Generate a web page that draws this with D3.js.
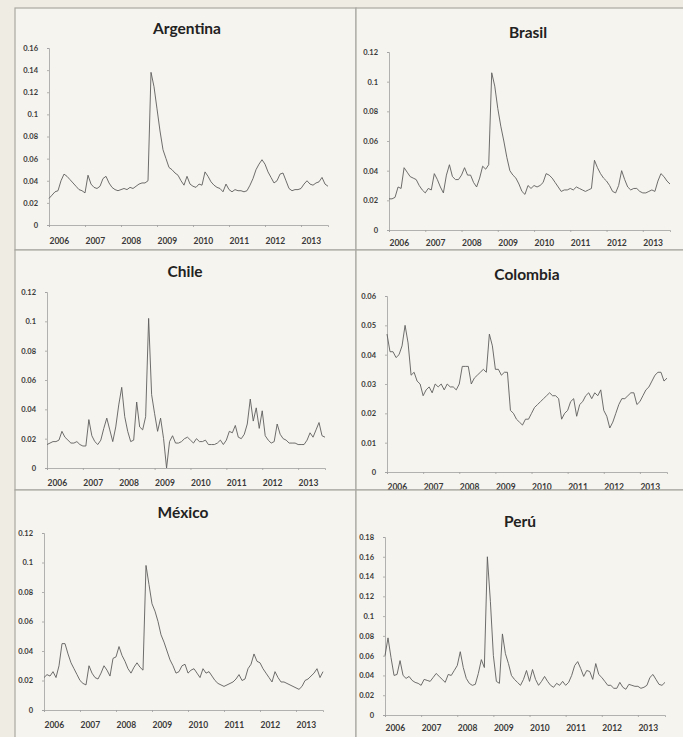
<!DOCTYPE html>
<html>
<head>
<meta charset="utf-8">
<script src="https://cdn.jsdelivr.net/npm/d3@7"></script>
<style>
	body { margin: 0; background: #efece4; }
	svg { display: block; }
	.tick text { font-family: Lato, "Open Sans", sans-serif; font-weight: 700; fill: #3a3a3a; }
	.title { font-family: Lato, "Open Sans", sans-serif; font-weight: 700; font-size: 15.5px; fill: #222; text-anchor: middle; }
</style>
</head>
<body>
<svg id="chart" width="683" height="737"></svg>
<script>
// monthly observations, Jan 2006 .. Oct 2013
const years = [2006, 2007, 2008, 2009, 2010, 2011, 2012, 2013];
const countries = ['Argentina', 'Brasil', 'Chile', 'Colombia', 'México', 'Perú'];

const argentina = [
	0.024, 0.027, 0.030, 0.031, 0.040, 0.046, 0.044, 0.041, 0.038, 0.035, 0.032, 0.031,
	0.029, 0.045, 0.037, 0.034, 0.033, 0.035, 0.042, 0.044, 0.038, 0.034, 0.032, 0.031,
	0.032, 0.033, 0.032, 0.034, 0.033, 0.035, 0.037, 0.038, 0.038, 0.040, 0.138, 0.125,
	0.105, 0.085, 0.068, 0.060, 0.052, 0.050, 0.047, 0.045, 0.040, 0.036, 0.044, 0.037,
	0.035, 0.034, 0.037, 0.036, 0.048, 0.044, 0.039, 0.036, 0.034, 0.033, 0.030, 0.037,
	0.032, 0.030, 0.032, 0.031, 0.031, 0.030, 0.031, 0.036, 0.042, 0.050, 0.055, 0.059,
	0.055, 0.048, 0.043, 0.038, 0.040, 0.046, 0.047, 0.040, 0.033, 0.031, 0.032, 0.032,
	0.033, 0.037, 0.040, 0.037, 0.036, 0.038, 0.039, 0.043, 0.037, 0.035
];
const brasil = [
	0.021, 0.021, 0.022, 0.029, 0.028, 0.042, 0.039, 0.036, 0.035, 0.034, 0.030, 0.027,
	0.025, 0.028, 0.027, 0.038, 0.034, 0.029, 0.025, 0.037, 0.044, 0.036, 0.034, 0.034,
	0.037, 0.042, 0.037, 0.037, 0.032, 0.029, 0.035, 0.043, 0.041, 0.044, 0.106, 0.097,
	0.082, 0.070, 0.060, 0.049, 0.040, 0.037, 0.035, 0.031, 0.026, 0.024, 0.030, 0.028,
	0.030, 0.029, 0.030, 0.032, 0.038, 0.037, 0.035, 0.032, 0.029, 0.026, 0.027, 0.027,
	0.028, 0.027, 0.029, 0.028, 0.027, 0.026, 0.027, 0.028, 0.047, 0.042, 0.038, 0.035,
	0.033, 0.030, 0.026, 0.025, 0.030, 0.040, 0.034, 0.029, 0.027, 0.028, 0.028, 0.026,
	0.025, 0.025, 0.026, 0.027, 0.026, 0.033, 0.038, 0.036, 0.033, 0.031
];
const chile = [
	0.016, 0.017, 0.018, 0.018, 0.019, 0.025, 0.021, 0.019, 0.017, 0.017, 0.018, 0.016,
	0.015, 0.015, 0.033, 0.022, 0.018, 0.016, 0.019, 0.027, 0.034, 0.026, 0.018, 0.028,
	0.043, 0.055, 0.035, 0.025, 0.018, 0.019, 0.045, 0.028, 0.026, 0.035, 0.102, 0.050,
	0.037, 0.025, 0.034, 0.020, 0.000, 0.018, 0.022, 0.017, 0.017, 0.018, 0.020, 0.021,
	0.019, 0.017, 0.020, 0.018, 0.018, 0.019, 0.016, 0.016, 0.016, 0.017, 0.019, 0.016,
	0.019, 0.025, 0.024, 0.029, 0.021, 0.020, 0.023, 0.030, 0.047, 0.032, 0.041, 0.027,
	0.039, 0.022, 0.019, 0.017, 0.018, 0.030, 0.023, 0.020, 0.019, 0.017, 0.017, 0.017,
	0.016, 0.016, 0.016, 0.019, 0.024, 0.021, 0.026, 0.031, 0.022, 0.021
];
const colombia = [
	0.047, 0.041, 0.041, 0.039, 0.040, 0.043, 0.050, 0.044, 0.033, 0.034, 0.031, 0.030,
	0.026, 0.028, 0.029, 0.027, 0.030, 0.029, 0.030, 0.028, 0.030, 0.029, 0.029, 0.028,
	0.030, 0.036, 0.036, 0.036, 0.030, 0.032, 0.033, 0.034, 0.035, 0.034, 0.047, 0.043,
	0.035, 0.035, 0.033, 0.034, 0.034, 0.021, 0.020, 0.018, 0.017, 0.016, 0.018, 0.018,
	0.020, 0.022, 0.023, 0.024, 0.025, 0.026, 0.027, 0.026, 0.026, 0.025, 0.018, 0.020,
	0.021, 0.024, 0.025, 0.019, 0.023, 0.024, 0.026, 0.027, 0.025, 0.027, 0.026, 0.028,
	0.021, 0.019, 0.015, 0.017, 0.020, 0.023, 0.025, 0.025, 0.026, 0.027, 0.027, 0.023,
	0.024, 0.026, 0.028, 0.029, 0.031, 0.033, 0.034, 0.034, 0.031, 0.032
];
const mexico = [
	0.022, 0.024, 0.023, 0.026, 0.022, 0.030, 0.045, 0.045, 0.038, 0.032, 0.028, 0.024,
	0.020, 0.018, 0.017, 0.030, 0.025, 0.022, 0.021, 0.025, 0.030, 0.027, 0.023, 0.035,
	0.036, 0.043, 0.037, 0.033, 0.028, 0.025, 0.029, 0.032, 0.029, 0.027, 0.098, 0.085,
	0.072, 0.067, 0.060, 0.051, 0.046, 0.040, 0.034, 0.030, 0.025, 0.026, 0.030, 0.031,
	0.025, 0.027, 0.028, 0.025, 0.022, 0.028, 0.025, 0.026, 0.023, 0.020, 0.018, 0.017,
	0.016, 0.017, 0.018, 0.019, 0.021, 0.024, 0.020, 0.021, 0.028, 0.031, 0.038, 0.033,
	0.032, 0.028, 0.025, 0.022, 0.019, 0.026, 0.022, 0.019, 0.019, 0.018, 0.017, 0.016,
	0.015, 0.014, 0.016, 0.020, 0.021, 0.023, 0.025, 0.028, 0.022, 0.026
];
const peru = [
	0.060, 0.078, 0.058, 0.040, 0.041, 0.055, 0.040, 0.037, 0.039, 0.035, 0.033, 0.032,
	0.030, 0.036, 0.035, 0.034, 0.038, 0.042, 0.039, 0.036, 0.033, 0.041, 0.040, 0.045,
	0.050, 0.064, 0.048, 0.037, 0.032, 0.030, 0.031, 0.042, 0.056, 0.048, 0.160, 0.115,
	0.060, 0.034, 0.032, 0.082, 0.062, 0.052, 0.040, 0.036, 0.033, 0.030, 0.036, 0.045,
	0.034, 0.046, 0.036, 0.030, 0.034, 0.039, 0.034, 0.030, 0.028, 0.032, 0.030, 0.034,
	0.030, 0.033, 0.040, 0.050, 0.054, 0.047, 0.039, 0.045, 0.044, 0.036, 0.052, 0.041,
	0.038, 0.034, 0.030, 0.030, 0.027, 0.027, 0.033, 0.028, 0.026, 0.031, 0.030, 0.029,
	0.029, 0.027, 0.028, 0.030, 0.038, 0.041, 0.036, 0.031, 0.030, 0.033
];

const series = [argentina, brasil, chile, colombia, mexico, peru];
const yMax = [0.16, 0.12, 0.12, 0.06, 0.12, 0.18];
const yStep = [0.02, 0.02, 0.02, 0.01, 0.02, 0.02];

// panel geometry
const layout = [
	{ box: [15, 8, 356, 250], plot: [49, 48, 328, 225], title: [187, 34], lab: 244 },
	{ box: [356, 8, 700, 250], plot: [389, 52, 670, 230], title: [528, 38], lab: 246 },
	{ box: [15, 250, 356, 490], plot: [47, 292, 325, 468], title: [185, 277], lab: 486 },
	{ box: [356, 250, 700, 490], plot: [387, 296, 667, 472], title: [527, 280], lab: 490 },
	{ box: [15, 490, 356, 750], plot: [44, 533, 323, 710], title: [183, 518], lab: 728 },
	{ box: [356, 490, 700, 750], plot: [385, 537, 665, 715], title: [520, 527], lab: 731 },
];

const svg = d3.select('#chart');
const fmt = d => String(+d.toFixed(3));

countries.forEach((name, i) => {
	const L = layout[i];
	const values = series[i];
	const g = svg.append('g');

	g.append('rect')
		.attr('x', L.box[0]).attr('y', L.box[1])
		.attr('width', L.box[2] - L.box[0]).attr('height', L.box[3] - L.box[1])
		.attr('fill', '#f6f4ee')
		.attr('stroke', '#a9a7a1')
		.attr('stroke-width', 1.2);

	g.append('text')
		.attr('class', 'title')
		.attr('x', L.title[0]).attr('y', L.title[1])
		.text(name);

	const x = d3.scaleLinear()
		.domain([0, years.length - 0.25])
		.range([L.plot[0], L.plot[2]]);
	const y = d3.scaleLinear()
		.domain([0, yMax[i]])
		.range([L.plot[3], L.plot[1]]);

	const yTicks = d3.range(0, yMax[i] + yStep[i] / 2, yStep[i]);
	const yAxis = g.append('g')
		.attr('transform', `translate(${L.plot[0]},0)`)
		.call(d3.axisLeft(y).tickValues(yTicks).tickFormat(fmt).tickSize(2).tickPadding(9));
	yAxis.selectAll('text').style('font-size', '7.5px');

	const xAxis = g.append('g')
		.attr('transform', `translate(0,${L.plot[3]})`)
		.call(d3.axisBottom(x).tickValues(d3.range(years.length)).tickFormat(d => years[d]).tickSize(2));
	xAxis.selectAll('text')
		.style('font-size', '8.5px')
		.attr('text-anchor', 'start')
		.attr('x', 0)
		.attr('y', null)
		.attr('dy', null)
		.attr('transform', `translate(0,${L.lab - L.plot[3]})`);

	[yAxis, xAxis].forEach(a => {
		a.select('.domain').attr('stroke', '#a0a0a0').attr('stroke-width', 0.8);
		a.selectAll('.tick line').attr('stroke', '#a0a0a0').attr('stroke-width', 0.8);
	});

	const line = d3.line()
		.x((d, j) => x(j / 12))
		.y(d => y(d));

	g.append('path')
		.datum(values)
		.attr('fill', 'none')
		.attr('stroke', '#5e5e5e')
		.attr('stroke-width', 0.9)
		.attr('stroke-linejoin', 'round')
		.attr('d', line);
});
</script>
</body>
</html>
